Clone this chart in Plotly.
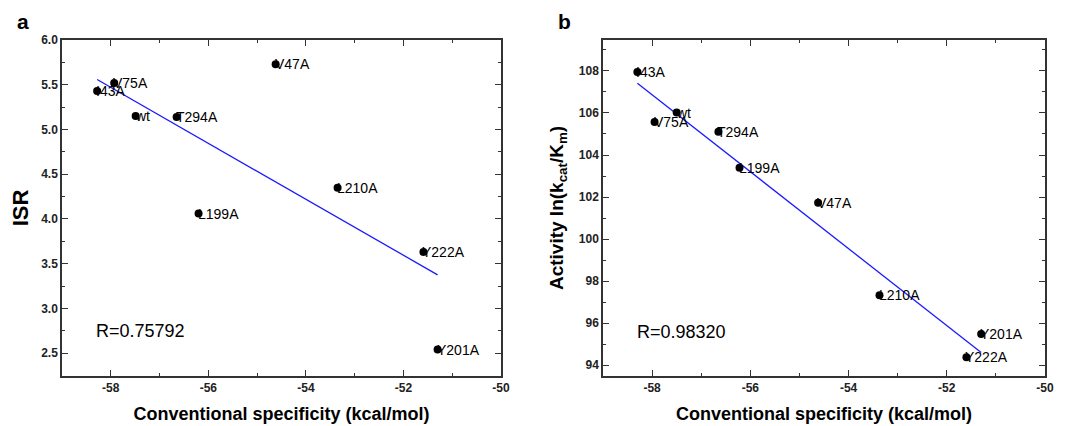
import numpy as np
import plotly.graph_objects as go

# ---- data ----
labels_a = ["I43A", "V75A", "wt", "T294A", "L199A", "V47A", "L210A", "Y222A", "Y201A"]
spec_a = [-58.28, -57.93, -57.49, -56.65, -56.20, -54.62, -53.35, -51.59, -51.30]
isr = [5.43, 5.52, 5.15, 5.14, 4.06, 5.73, 4.35, 3.63, 2.54]

labels_b = ["I43A", "wt", "V75A", "T294A", "L199A", "V47A", "L210A", "Y201A", "Y222A"]
spec_b = [-58.30, -57.50, -57.95, -56.65, -56.22, -54.62, -53.37, -51.30, -51.60]
activity = [107.95, 106.02, 105.57, 105.11, 103.40, 101.73, 97.33, 95.49, 94.38]

x_ticks = [-58, -56, -54, -52, -50]
isr_ticks = [2.5, 3.0, 3.5, 4.0, 4.5, 5.0, 5.5, 6.0]
act_ticks = [94, 96, 98, 100, 102, 104, 106, 108]

r_text_a = "R=0.75792"
r_text_b = "R=0.98320"

FONT = "Arial, Liberation Sans, sans-serif"
OFF = 8                      # default page body margin
FW, FH = 1067 - OFF, 426 - OFF

def px(sx):
    return (sx - OFF) / FW

def py(sy):
    return 1 - (sy - OFF) / FH

fig = go.Figure()

def fit_line(x, y):
    x = np.array(x); y = np.array(y)
    k, b = np.polyfit(x, y, 1)
    xs = np.array([x.min(), x.max()])
    return xs, k * xs + b

for xv, yv, xa, ya in [(spec_a, isr, "x", "y"), (spec_b, activity, "x2", "y2")]:
    lx, ly = fit_line(xv, yv)
    fig.add_trace(go.Scatter(x=lx, y=ly, mode="lines", line=dict(color="#1a1aff", width=1.3),
                             xaxis=xa, yaxis=ya, showlegend=False, hoverinfo="skip"))
    fig.add_trace(go.Scatter(x=xv, y=yv, mode="markers", marker=dict(color="black", size=8),
                             xaxis=xa, yaxis=ya, showlegend=False))

annotations = []
for labs, xv, yv, xr, yr in [(labels_a, spec_a, isr, "x", "y"), (labels_b, spec_b, activity, "x2", "y2")]:
    for l, xx, yy in zip(labs, xv, yv):
        annotations.append(dict(x=xx, y=yy, xref=xr, yref=yr, text=l, showarrow=False,
                                xanchor="left", yanchor="middle", xshift=-3,
                                font=dict(family=FONT, size=14, color="black")))

annotations += [
    dict(x=-58.3, y=2.75, xref="x", yref="y", text=r_text_a, showarrow=False, xanchor="left",
         yanchor="middle", xshift=-2, font=dict(family=FONT, size=18, color="black")),
    dict(x=-58.3, y=95.6, xref="x2", yref="y2", text=r_text_b, showarrow=False, xanchor="left",
         yanchor="middle", xshift=-2, font=dict(family=FONT, size=18, color="black")),
    dict(x=px(15), y=py(22), xref="paper", yref="paper", text="<b>a</b>", showarrow=False,
         xanchor="left", yanchor="middle", font=dict(family=FONT, size=21, color="black")),
    dict(x=px(556), y=py(22), xref="paper", yref="paper", text="<b>b</b>", showarrow=False,
         xanchor="left", yanchor="middle", font=dict(family=FONT, size=21, color="black")),
]

axis_common = dict(showgrid=False, zeroline=False, showline=True, linecolor="#333333", linewidth=1.5,
                   mirror="allticks", ticks="inside", ticklen=6, tickwidth=1.2, tickcolor="#333333",
                   automargin=False, tickmode="array",
                   tickfont=dict(family=FONT, size=12, color="#222222", weight="bold"))

xtitle = dict(text="<b>Conventional specificity (kcal/mol)</b>", font=dict(family=FONT, size=18, color="black"),
              standoff=13)

def minor(d, t0):
    return dict(dtick=d, tick0=t0, ticks="inside", ticklen=3.5, tickcolor="#333333", showgrid=False)

fig.update_layout(
    width=FW, height=FH, margin=dict(l=0, r=0, t=0, b=0, autoexpand=False),
    paper_bgcolor="white", plot_bgcolor="white",
    annotations=annotations,
    xaxis=dict(domain=[px(62), px(501)], range=[-59, -50], tickvals=x_ticks,
               ticktext=[str(v) for v in x_ticks], minor=minor(1, -59),
               title=xtitle, anchor="y", **axis_common),
    yaxis=dict(domain=[py(376), py(40)], range=[2.245, 6.0], tickvals=isr_ticks,
               ticktext=[f"{v:.1f}" for v in isr_ticks], minor=minor(0.25, 2.25),
               title=dict(text="<b>ISR</b>", font=dict(family=FONT, size=22, color="black"), standoff=12),
               anchor="x", **axis_common),
    xaxis2=dict(domain=[px(603), px(1045)], range=[-59, -50], tickvals=x_ticks,
                ticktext=[str(v) for v in x_ticks], minor=minor(1, -59),
                title=xtitle, anchor="y2", **axis_common),
    yaxis2=dict(domain=[py(376), py(40)], range=[93.49, 109.47], tickvals=act_ticks,
                ticktext=[str(v) for v in act_ticks], minor=minor(1, 93),
                title=dict(text="<b>Activity ln(k<sub>cat</sub>/K<sub>m</sub>)</b>",
                           font=dict(family=FONT, size=19, color="black"), standoff=10),
                anchor="x2", **axis_common),
)

fig.write_html("out.html")
